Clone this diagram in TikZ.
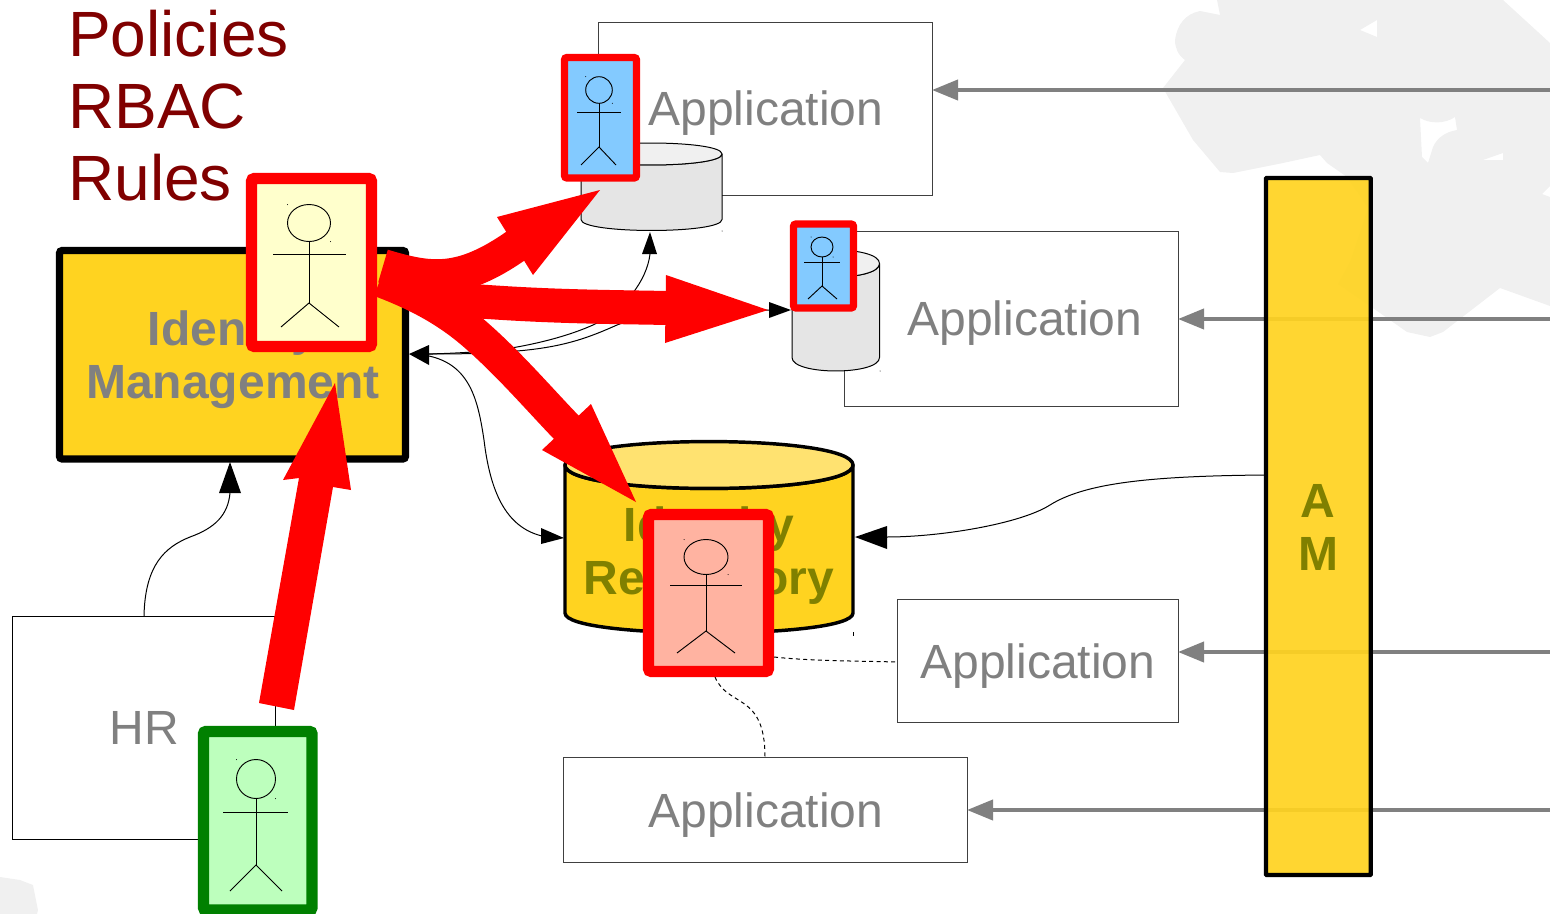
\documentclass[tikz,border=0pt]{standalone}
\usepackage{fontspec}
\setmainfont{Liberation Sans}
\usetikzlibrary{arrows.meta,fit}
\definecolor{blob}{HTML}{F0F0F0}
\definecolor{midgray}{HTML}{808080}
\definecolor{gold}{HTML}{FFD320}
\definecolor{goldtop}{HTML}{FFE270}
\definecolor{olivetext}{HTML}{808000}
\definecolor{darkredtext}{HTML}{800000}
\definecolor{pureRed}{HTML}{FF0000}
\definecolor{skyfill}{HTML}{83CAFF}
\definecolor{creamfill}{HTML}{FFFFCC}
\definecolor{salmonfill}{HTML}{FFB3A1}
\definecolor{mintfill}{HTML}{BDFFBD}
\definecolor{actorgreen}{HTML}{008000}
\tikzset{
  appbox/.style={draw=black!75,line width=0.75pt},
  biglabel/.style={font=\fontsize{36}{39.75}\selectfont,text=midgray,align=center,inner sep=0pt},
  boldgray/.style={font=\fontsize{36}{39.75}\selectfont\bfseries,text=midgray,align=center,inner sep=0pt},
  boldolive/.style={font=\fontsize{36}{39.75}\selectfont\bfseries,text=olivetext,align=center,inner sep=0pt},
  feed/.style={draw=midgray,line width=3pt,-{Triangle[length=19.5pt,width=15pt]}},
  thincurve/.style={draw=black,line width=0.75pt},
  dashcurve/.style={draw=black,line width=0.75pt,dash pattern=on 3pt off 2.5pt},
  headblack/.style={fill=black},
  fatline/.style={draw=pureRed,line width=25.5pt},
  redframe/.style={draw=pureRed,rounded corners=2pt},
  stickline/.style={draw=black,line width=0.7pt},
}
% box given by its corners, as a named node
\newcommand\bx[6]{%
  \coordinate (#1-a) at (#2,#3);
  \coordinate (#1-b) at (#4,#5);
  \node[fit=(#1-a)(#1-b),inner sep=0pt,#6] (#1) {};
}
% stick figure
\newcommand\stick[9]{%
  \draw[stickline] (#1,#2) ellipse [x radius=#3,y radius=#4];
  \draw[stickline] (#1,#2+#4) -- (#1,#5);
  \draw[stickline] (#7,#6) -- (#8,#6);
  \draw[stickline] #9;
  \fill[black] (#1-#3,#2-#4) circle [radius=0.5];
  \fill[black] (#1+#3,#2+#4) circle [radius=0.5];
}
% cylinder: name, x1, x2, y of top ellipse, y of bottom ellipse, ry top, ry bottom, line+fill of body, fill of top
\newcommand\cyl[9]{%
  \path[#8,line join=round] (#2,#4) -- (#2,#5) .. controls (#2,#5+#7*1.33) and (#3,#5+#7*1.33) .. (#3,#5) -- (#3,#4)
     .. controls (#3,#4+#6*1.33) and (#2,#4+#6*1.33) .. (#2,#4) -- cycle;
  \path[#8,fill=#9,line join=round] (#2,#4) .. controls (#2,#4-#6*1.33) and (#3,#4-#6*1.33) .. (#3,#4)
     .. controls (#3,#4+#6*1.33) and (#2,#4+#6*1.33) .. (#2,#4) -- cycle;
  \coordinate (#1) at ({(#2+#3)/2},#4);
}
\begin{document}
\begin{tikzpicture}[x=0.75pt,y=-0.75pt]
\useasboundingbox (0,0) rectangle (1550,914);
\clip (0,0) rectangle (1550,914);
% ---------- background blobs
\fill[blob,even odd rule]
  (1217,0) -- (1220,15) -- (1200,11) .. controls (1185,14) and (1177,25) .. (1175,40)
  .. controls (1175,48) and (1178,55) .. (1185,60) -- (1163,88) -- (1193,140) -- (1220,172) -- (1233,173)
  -- (1283,163) -- (1320,155) -- (1327,163) -- (1347,177) -- (1368,208) -- (1350,262) -- (1338,284)
  -- (1370,306) -- (1407,332) -- (1430,337) -- (1443,332) -- (1500,288) -- (1550,306)
  -- (1550,43) -- (1503,0) -- cycle
  (1360,30) -- (1377,20) -- (1377,37) -- cycle
  (1420,118) .. controls (1430,124) and (1445,124) .. (1455,117) -- (1457,130) .. controls (1445,132) and (1437,138) .. (1433,147)
  -- (1428,163) -- (1422,157) -- cycle
  (1483,160) -- (1503,153) -- (1503,160) -- cycle
  (1542,194) -- (1550,186) -- (1550,197) -- cycle;
\fill[blob] (0,877) -- (20,880) -- (33,885) -- (38,910) -- (37,914) -- (0,914) -- cycle;

% ---------- application boxes
\bx{appA}{598.5}{22}{932}{195.5}{appbox,fill=white}
\bx{appB}{844.5}{231}{1178}{406}{appbox,fill=white}
\bx{appC}{897.5}{599.5}{1178}{722}{appbox,fill=white}
\bx{appD}{563.5}{757.5}{967}{862.5}{appbox,fill=white}
\bx{hr}{12.5}{616}{275.5}{839}{draw=black,line width=0.75pt,fill=white}
\node[biglabel] (appAt) at (766,113) {Application};
\node[biglabel] (appBt) at (1025,323) {Application};
\node[biglabel] (appCt) at (1038,666) {Application};
\node[biglabel] (appDt) at (766,815) {Application};
\node[biglabel] (hrt) at (144.5,728) {HR};

% ---------- feed arrows from the right edge
\coordinate (inA) at (932,90);  \coordinate (rA) at (1550,90);
\coordinate (inB) at (1178,319); \coordinate (rB) at (1550,319);
\coordinate (inC) at (1178,652); \coordinate (rC) at (1550,652);
\coordinate (inD) at (967,810);  \coordinate (rD) at (1550,810);
\draw[feed] (rA) -- (inA);
\draw[feed] (rB) -- (inB);
\draw[feed] (rC) -- (inC);
\draw[feed] (rD) -- (inD);

% ---------- cylinders
\cyl{dbA}{581}{722}{154}{219.5}{11}{11}{draw=black,line width=0.75pt,fill=black!10}{black!6}
\cyl{dbB}{792}{879.5}{263.5}{357.5}{13.5}{13.5}{draw=black,line width=0.75pt,fill=black!10}{black!6}
\cyl{repo}{565}{853}{465}{613}{23.5}{20}{draw=black,line width=2.6pt,fill=gold}{goldtop}
\fill (722,231) circle [radius=0.5];
\fill (880,371) circle [radius=0.5];
\draw[black,line width=0.75pt] (853,632) -- (853,636);
\node[boldolive] (repot) at (709,556) {Identity\\Repository};

% ---------- Identity Management
\bx{idm}{59.5}{250.5}{405.5}{459}{draw=black,line width=5.4pt,fill=gold,rounded corners=2pt}
\node[boldgray] (idmt) at (233,360) {Identity\\Management};

% ---------- thin connectors
\coordinate (idmR) at (428,354);
\coordinate (idmTip) at (409,354);
\coordinate (idmR2) at (429,356);
\coordinate (dbAin) at (650,254);
\coordinate (dbBin) at (769,310);
\coordinate (repoW) at (542,536);
\coordinate (hrTop) at (144,616);
\coordinate (idmB) at (230,493);
\coordinate (amW) at (1265,475);
\coordinate (repoE) at (887,537);
\draw[thincurve] (idmR) .. controls (470,353) and (500,350) .. (517,347) .. controls (550,341) and (575,333) .. (593,325) .. controls (625,310) and (647,280) .. (dbAin);
\draw[thincurve] (idmR) .. controls (470,354) and (500,353) .. (517,351) .. controls (565,347) and (590,337) .. (617,325) .. controls (650,312) and (720,310) .. (dbBin);
\draw[thincurve] (idmR2) .. controls (470,365) and (478,400) .. (484,440) .. controls (490,490) and (505,527) .. (repoW);
\draw[thincurve] (hrTop) .. controls (145,565) and (165,547) .. (190,537) .. controls (215,528) and (228,515) .. (idmB);
\draw[thincurve] (amW) .. controls (1150,476) and (1085,483) .. (1050,505) .. controls (1020,524) and (940,537) .. (repoE);
% black heads
\fill[headblack] (idmTip) -- (429,345) -- (429,365) -- cycle;
\fill[headblack] (650,232) -- (642,254) -- (657,254) -- cycle;
\fill[headblack] (791,310) -- (769,302) -- (769,318) -- cycle;
\fill[headblack] (564,538) -- (541,528) -- (541,544) -- cycle;
\fill[headblack] (230,462) -- (219,493) -- (241,493) -- cycle;
\fill[headblack] (855,537) -- (887,526) -- (887,549) -- cycle;
% dashed connectors
\coordinate (pinkE) at (774,657);
\coordinate (appCw) at (897,662);
\coordinate (pinkS) at (715,677);
\coordinate (appDn) at (765,757);
\draw[dashcurve] (pinkE) .. controls (810,661) and (860,661) .. (appCw);
\draw[dashcurve] (pinkS) .. controls (728,708) and (765,692) .. (appDn);

% ---------- actors
\bx{userY}{251.5}{178.5}{371.5}{346.5}{redframe,line width=8.3pt,fill=creamfill}
\stick{309}{223}{21.5}{18.5}{303}{254}{273}{346}{(281,327) -- (309,303) -- (339,327)}
\bx{userA}{564.5}{57.5}{636.5}{178}{redframe,line width=5.6pt,fill=skyfill}
\stick{599}{90}{13.3}{13.3}{147}{112}{577}{621}{(581,165) -- (599,147) -- (616,165)}
\bx{userB}{793.5}{224}{853.5}{308}{redframe,line width=5.6pt,fill=skyfill}
\stick{822}{247}{11}{10}{286}{262}{804}{840}{(808,299) -- (822,286) -- (837,299)}
\bx{userP}{648.5}{514.5}{768.5}{671.5}{redframe,line width=8.3pt,fill=salmonfill}
\stick{706}{557}{22}{17.5}{631}{585}{670}{742}{(677,653) -- (706,631) -- (735,653)}
\bx{userG}{203.5}{731.5}{312}{910}{draw=actorgreen,rounded corners=2pt,line width=8.6pt,fill=mintfill}
\stick{256}{779}{19.5}{19.5}{865}{812}{223}{288}{(230,891) -- (256,865) -- (282,891)}

% ---------- red fat arrows
\coordinate (fatS) at (383,266);
\draw[fatline] (fatS) .. controls (430,280) and (460,285) .. (517,245);
\fill[pureRed] (497,217) -- (600,190) -- (533,275) -- cycle;
\coordinate (fatS2) at (382,279);
\draw[fatline] (fatS2) .. controls (420,292) and (450,300) .. (488,302) .. controls (560,307) and (620,307) .. (667,308);
\fill[pureRed] (666,275) -- (768,310) -- (665,343) -- cycle;
\coordinate (fatS3) at (380,280);
\draw[fatline] (fatS3) .. controls (420,295) and (450,312) .. (477,336) .. controls (510,365) and (540,400) .. (567,428);
\fill[pureRed] (591,404) -- (636,502) -- (542,450) -- cycle;
\fill[pureRed] (259,703) -- (299,478) -- (283,480) -- (335,383) -- (351,490) -- (333,487) -- (294,710) -- cycle;

% ---------- other labels
\node[anchor=north west,inner sep=0pt,align=left,text=darkredtext,font=\fontsize{48}{54}\selectfont] (pol) at (68,10) {Policies\\RBAC\\Rules};
\bx{am}{1266}{178}{1370.7}{875}{draw=black,line width=3.2pt,fill=gold,fill opacity=0.92,rounded corners=0.5pt}
\node[boldolive] (amt) at (1318,527) {A\\M};
\end{tikzpicture}
\end{document}
